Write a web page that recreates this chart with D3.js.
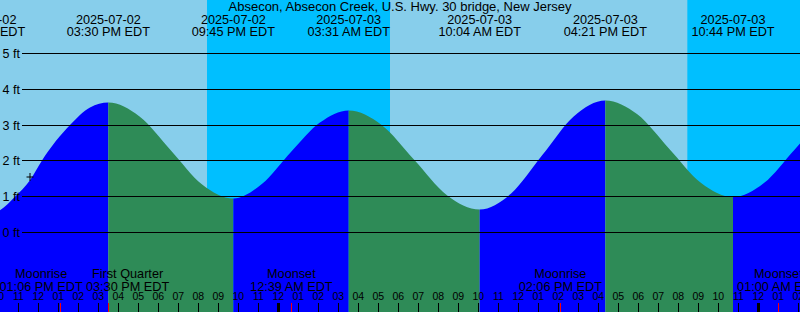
<!DOCTYPE html>
<html><head><meta charset="utf-8">
<script src="https://cdn.jsdelivr.net/npm/d3@7"></script>
<style>
html,body{margin:0;padding:0;overflow:hidden;background:#87CEEB}
svg{display:block}
text{font-family:"Liberation Sans",Arial,Helvetica,sans-serif;fill:#000}
</style>
</head><body>
<svg id="chart" width="800" height="312"></svg>
<script>
// ---------- data (times are hours since 2025-07-02 00:00 EDT) ----------
const title = "Absecon, Absecon Creek, U.S. Hwy. 30 bridge, New Jersey";
const viewStart = 10.083, viewEnd = 50.083;

const extremeTimes   = [9.283, 15.5, 21.75, 27.517, 34.067, 40.35, 46.733, 52.9];
const extremeHeights = [0.42, 3.63, 0.95, 3.41, 0.64, 3.69, 0.99, 3.64];
const extremeDates   = ["2025-07-02","2025-07-02","2025-07-02","2025-07-03","2025-07-03","2025-07-03","2025-07-03","2025-07-04"];
const extremeClock   = ["09:17 AM EDT","03:30 PM EDT","09:45 PM EDT","03:31 AM EDT","10:04 AM EDT","04:21 PM EDT","10:44 PM EDT","04:54 AM EDT"];

// extra heights
const readTimes   = [10.083, 10.833, 11.583, 12.167, 13.583, 14.583,
                     17.06, 18.63, 20.19,
                     23.19, 24.63, 26.08,
                     29.15, 30.79, 32.43,
                     35.64, 37.21, 38.78,
                     41.95, 43.54, 45.14,
                     48.28, 49.82, 51.36];
const readHeights = [0.62, 1.00, 1.46, 2.00, 3.00, 3.49,
                     3.24, 2.29, 1.34,
                     1.36, 2.25, 3.07,
                     3.01, 2.03, 1.04,
                     1.09, 2.17, 3.25,
                     3.30, 2.34, 1.38,
                     1.38, 2.32, 3.25];

const nightStarts = [20.433, 44.45];
const nightEnds   = [29.583, 50.3];

const moonTimes = [13.1, 15.5, 24.65, 38.1, 49.0];
const moonNames = ["Moonrise","First Quarter","Moonset","Moonrise","Moonset"];
const moonClock = ["01:06 PM EDT","03:30 PM EDT","12:39 AM EDT","02:06 PM EDT","01:00 AM EDT"];

const yTicks = [0, 1, 2, 3, 4, 5];
const hourTicks = d3.range(10, 51);
const nowTime = 11.583, nowHeight = 1.55;

// ---------- layout ----------
const W = 800, H = 312;
const svg = d3.select("#chart");
const x = d3.scaleLinear([viewStart, viewEnd], [0, W]);
const y = d3.scaleLinear([0, 5], [232.5, 53.5]);

const colors = {day:"#87CEEB", night:"#00BFFF", flood:"#0000FF", ebb:"#2E8B57"};

// background
svg.append("rect").attr("x",0).attr("y",0).attr("width",W).attr("height",H).attr("fill",colors.day);
svg.selectAll("rect.night").data(nightStarts).join("rect").attr("class","night")
  .attr("x", d => x(d)).attr("y", 0)
  .attr("width", (d,i) => x(nightEnds[i]) - x(d)).attr("height", H)
  .attr("fill", colors.night);

// tide curve
const pts = extremeTimes.map((t,i)=>[t, extremeHeights[i]])
  .concat(readTimes.map((t,i)=>[t, readHeights[i]]))
  .sort((a,b)=>a[0]-b[0]);
const area = d3.area().x(d=>x(d[0])).y0(H).y1(d=>y(d[1])).curve(d3.curveMonotoneX);
const defs = svg.append("defs");
defs.append("clipPath").attr("id","tideClip").append("path").attr("d", area(pts));
const seg = d3.range(extremeTimes.length-1);
svg.append("g").attr("clip-path","url(#tideClip)")
  .selectAll("rect").data(seg).join("rect")
  .attr("x", i => x(extremeTimes[i]))
  .attr("y", 0)
  .attr("width", i => x(extremeTimes[i+1]) - x(extremeTimes[i]))
  .attr("height", H)
  .attr("fill", i => extremeHeights[i+1] > extremeHeights[i] ? colors.flood : colors.ebb);

// grid lines + ft labels
const grid = svg.append("g");
grid.selectAll("line").data(yTicks).join("line")
  .attr("x1", 22).attr("x2", W)
  .attr("y1", d => Math.floor(y(d))+0.5).attr("y2", d => Math.floor(y(d))+0.5)
  .attr("stroke","#000").attr("stroke-width",1).attr("shape-rendering","crispEdges");
grid.selectAll("text").data(yTicks).join("text")
  .attr("x", 2.5).attr("y", d => Math.floor(y(d)) + 4.8)
  .attr("font-size", 12.5).text(d => d + " ft");

// title
svg.append("text").attr("x", W/2).attr("y", 11).attr("text-anchor","middle")
  .attr("font-size", 13).text(title);

// extreme labels at top
const extG = svg.append("g").selectAll("g").data(extremeTimes).join("g")
  .attr("transform", d => `translate(${x(d)},0)`);
extG.append("text").attr("y", 24).attr("text-anchor","middle").attr("font-size",12.7)
  .text((d,i)=>extremeDates[i]);
extG.append("text").attr("y", 35.7).attr("text-anchor","middle").attr("font-size",12.7)
  .text((d,i)=>extremeClock[i]);

// current-time marker
const nx = x(nowTime), ny = y(nowHeight);
svg.append("path").attr("d", `M${nx-3.5},${ny}H${nx+3.5}M${nx},${ny-4}V${ny+4}`)
  .attr("stroke","#000").attr("stroke-width",1).attr("fill","none");

// moon event labels (spread apart if they collide)
const moonG = svg.append("g").selectAll("g").data(moonTimes).join("g");
moonG.append("text").attr("y", 278).attr("text-anchor","middle").attr("font-size",12.7)
  .text((d,i)=>moonNames[i]);
moonG.append("text").attr("y", 290.7).attr("text-anchor","middle").attr("font-size",12.7)
  .text((d,i)=>moonClock[i]);
const widths = [];
moonG.each(function(){ widths.push(this.getBBox().width); });
const centers = moonTimes.map(t => x(t));
for (let it=0; it<30; it++) {
  for (let i=1; i<centers.length; i++) {
    const need = (widths[i-1]+widths[i])/2 + 3;
    const gap = centers[i]-centers[i-1];
    if (gap < need) { const dd = (need-gap)/2; centers[i-1]-=dd; centers[i]+=dd; }
  }
}
moonG.attr("transform", (d,i)=>`translate(${centers[i]},0)`);

// hour labels
const fmtHour = h => { const v = (h % 12) || 12; return (v<10?"0":"") + v; };
svg.append("g").selectAll("text").data(hourTicks).join("text")
  .attr("x", d => x(d)).attr("y", 300.3).attr("text-anchor","middle")
  .attr("font-size", 10.5).text(fmtHour);

// hour ticks
svg.append("g").selectAll("rect").data(hourTicks).join("rect")
  .attr("x", d => Math.round(x(d)) - (d % 24 === 0 ? 1.5 : 0.5))
  .attr("width", d => d % 24 === 0 ? 3 : 1)
  .attr("y", 303).attr("height", 9).attr("fill","#000").attr("shape-rendering","crispEdges");
// moon event ticks
svg.append("g").selectAll("rect").data(moonTimes).join("rect")
  .attr("x", d => Math.round(x(d)) - 0.5).attr("width", 1)
  .attr("y", 303).attr("height", 9).attr("fill","#FF0000").attr("shape-rendering","crispEdges");
</script>
</body></html>
